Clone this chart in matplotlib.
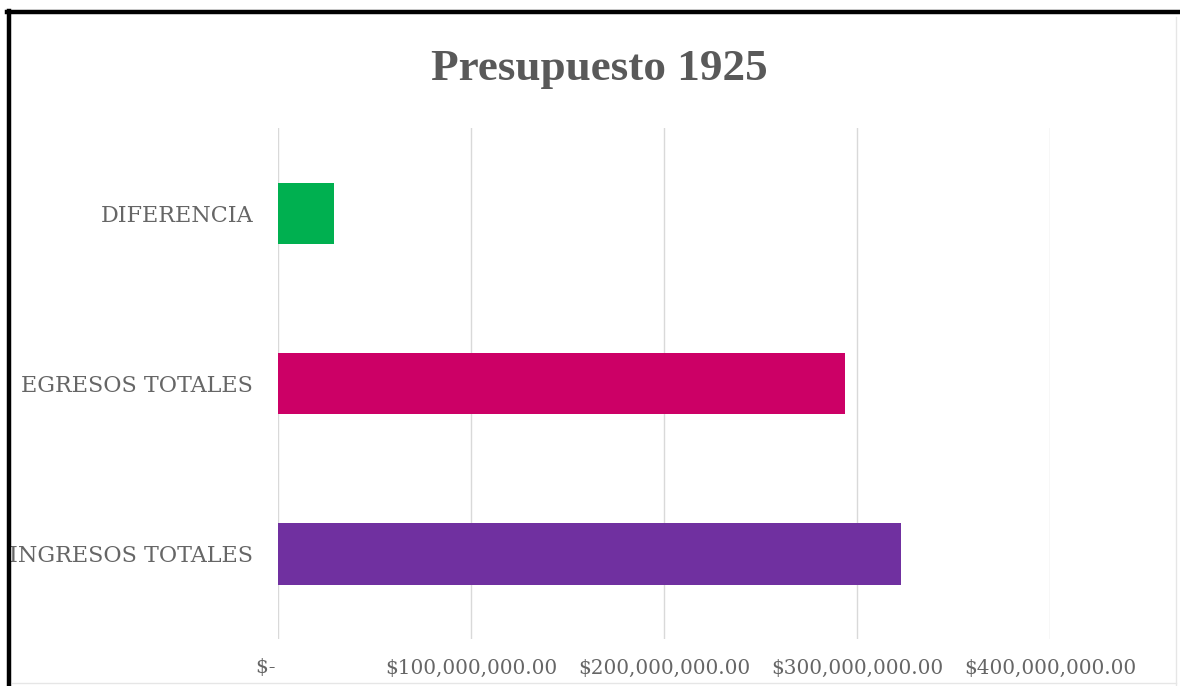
import matplotlib.pyplot as plt
from matplotlib.lines import Line2D
from matplotlib.ticker import FuncFormatter

plt.switch_backend('agg')

# presupuesto 1925
categorias = ['INGRESOS TOTALES', 'EGRESOS TOTALES', 'DIFERENCIA']
montos = [322_600_000, 293_800_000, 28_800_000]
colores = ['#7030A0', '#CC0066', '#00B050']
ticks_x = [0, 100_000_000, 200_000_000, 300_000_000, 400_000_000]

gris = '#595959'

fig = plt.figure(figsize=(11.8, 6.86), dpi=100)
ax = fig.add_axes([0.2356, 0.0685, 0.6542, 0.7449])

pos = range(len(categorias))
ax.barh(pos, montos, height=0.36, color=colores, zorder=3)

ax.set_xlim(0, 400_000_000)
ax.set_ylim(-0.5, 2.5)
ax.set_xticks(ticks_x)


def moneda(v, _):
    if v == 0:
        return '$-    '
    return '${:,.2f}'.format(v)


ax.xaxis.set_major_formatter(FuncFormatter(moneda))
ax.set_yticks(list(pos))
ax.set_yticklabels(categorias)

ax.grid(axis='x', color='#d9d9d9', linewidth=1, zorder=0)
for s in ax.spines.values():
    s.set_visible(False)
ax.tick_params(length=0, labelcolor='#666666', labelfontfamily='DejaVu Serif')
ax.tick_params(axis='x', pad=14, labelsize=14.4)
ax.tick_params(axis='y', pad=18, labelsize=16)

fig.text(0.508, 0.9, 'Presupuesto 1925', ha='center', va='center',
         fontsize=32.5, fontweight='bold', color=gris,
         fontfamily='Liberation Serif')

# marco
fig.add_artist(Line2D([0.006, 1.0], [0.982, 0.982], color='black', lw=3.2,
                      transform=fig.transFigure))
fig.add_artist(Line2D([0.0076, 0.0076], [0.0, 0.984], color='black', lw=3.2,
                      transform=fig.transFigure))
fig.add_artist(Line2D([0.997, 0.997], [0.0, 0.975], color='#e6e6e6', lw=1,
                      transform=fig.transFigure))
fig.add_artist(Line2D([0.01, 0.997], [0.004, 0.004], color='#e6e6e6', lw=1,
                      transform=fig.transFigure))

fig.savefig('out.png', dpi=100)
plt.close(fig)
